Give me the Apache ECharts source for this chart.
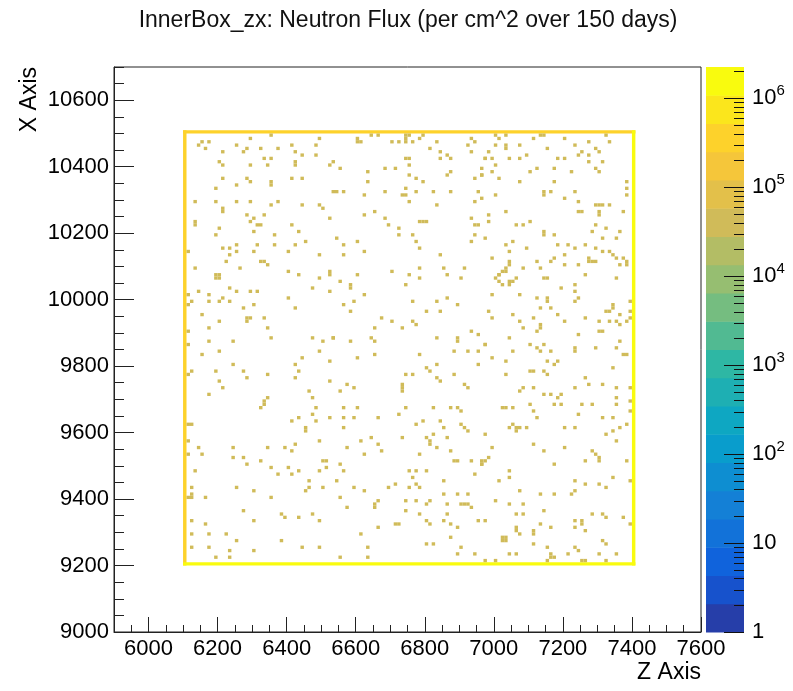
<!DOCTYPE html>
<html><head><meta charset="utf-8">
<script src="https://cdn.jsdelivr.net/npm/echarts@6/dist/echarts.min.js"></script>
<style>html,body{margin:0;padding:0;background:#fff}#c{width:793px;height:691px}</style>
</head><body><div id="c"></div>
<script>
const titleText = 'InnerBox_zx: Neutron Flux (per cm^2 over 150 days)';
const zAxisTitle = 'Z Axis';
const xAxisTitle = 'X Axis';
const zRange = [5900, 7600];
const xRange = [9000, 10700];
const zMajorTicks = [6000, 6200, 6400, 6600, 6800, 7000, 7200, 7400, 7600];
const xMajorTicks = [9000, 9200, 9400, 9600, 9800, 10000, 10200, 10400, 10600];
const minorStep = 50;
const binSize = 10;
const fluxRange = [1, 2.24e6];
const nContours = 20;
const cellFlux = 4.0e4;
// box outline strips: [zFrom, xFrom, zTo, xTo, flux]
const edgeStrips = [
  [6100, 10500, 7410, 10510, 3.5e5],
  [6100, 9200, 6110, 10510, 3.5e5],
  [7400, 9200, 7410, 10510, 1.6e6],
  [6100, 9200, 7410, 9210, 1.6e6]
];
// scattered bins [Z, X] (lower edges)
const hotCells = [
[6290,10480],[6350,10490],[6490,10480],[6140,10460],[6150,10470],[6170,10470],[6160,10450],[6250,10460],[6280,10450],[6270,10440],[6320,10450],[6370,10450],[6410,10460],[6420,10440],[6480,10460],[6480,10430],[6440,10430],[6210,10440],[6330,10420],[6350,10420],[6200,10410],[6210,10400],[6290,10400],[6340,10400],[6420,10400],[6420,10410],[6520,10400],[6530,10410],[6210,10360],[6280,10360],[6290,10350],[6350,10350],[6350,10340],[6410,10360],[6440,10360],[6250,10340],[6190,10330],[6130,10290],[6190,10290],[6250,10290],[6290,10290],[6350,10280],[6370,10290],[6440,10280],[6490,10280],[6500,10270],[6530,10320],[6210,10260],[6210,10270],[6280,10250],[6300,10240],[6290,10230],[6330,10250],[6520,10240],[6130,10230],[6130,10220],[6310,10220],[6320,10220],[6410,10220],[6200,10210],[6190,10190],[6300,10200],[6360,10190],[6430,10200],[6450,10170],[6250,10160],[6210,10150],[6230,10150],[6250,10140],[6230,10130],[6310,10160],[6360,10160],[6420,10160],[6300,10140],[6400,10140],[6490,10130],[6110,10140],[6220,10110],[6320,10110],[6330,10110],[6340,10100],[6130,10090],[6260,10090],[6400,10080],[6430,10070],[6190,10070],[6200,10070],[6520,10080],[6520,10070],
[6200,10060],[6190,10060],[6490,10060],[6230,10030],[6140,10020],[6250,10020],[6290,10020],[6310,10020],[6470,10030],[6520,10020],[6110,10010],[6170,10010],[6210,10000],[6200,9990],[6170,9990],[6230,9990],[6120,9990],[6110,9980],[6400,10000],[6300,9980],[6270,9970],[6420,9970],[6150,9950],[6280,9940],[6290,9940],[6280,9930],[6200,9930],[6330,9940],[6170,9910],[6340,9910],[6110,9900],[6350,9880],[6470,9880],[6530,9880],[6170,9870],[6240,9870],[6500,9870],[6110,9860],[6200,9840],[6490,9840],[6150,9830],[6440,9820],[6520,9810],[6240,9800],[6420,9800],[6120,9780],[6190,9780],[6270,9780],[6430,9780],[6110,9770],[6280,9760],[6340,9770],[6420,9760],[6200,9750],[6520,9750],[6210,9730],[6170,9710],[6460,9720],[6470,9700],[6340,9700],[6330,9690],[6330,9680],[6320,9670],[6480,9670],[6470,9650],[6520,9640],[6430,9640],[6410,9630],
[6480,9630],[6110,9620],[6120,9620],[6450,9610],[6450,9600],[6110,9570],[6490,9570],[6140,9550],[6240,9550],[6340,9550],[6390,9550],[6420,9560],[6410,9540],[6110,9530],[6150,9530],[6240,9520],[6270,9520],[6320,9510],[6280,9500],[6500,9510],[6510,9510],[6510,9490],[6130,9480],[6350,9490],[6400,9490],[6370,9470],[6410,9470],[6430,9480],[6490,9480],[6460,9450],[6120,9430],[6250,9430],[6460,9430],[6500,9430],[6450,9420],[6300,9420],[6110,9400],[6120,9400],[6120,9410],[6160,9400],[6350,9400],[6270,9360],[6380,9350],[6390,9340],[6430,9340],[6470,9350],[6120,9330],[6300,9330],[6490,9330],[6160,9320],[6120,9290],[6170,9290],[6220,9290],[6250,9270],[6380,9270],[6120,9250],[6170,9250],[6230,9240],[6300,9240],[6440,9250],[6490,9250],[6190,9220],[6230,9220],
[6600,10480],[6600,10470],[6610,10470],[6640,10490],[6660,10490],[6740,10490],[6740,10480],[6740,10470],[6750,10490],[6700,10470],[6720,10470],[6760,10470],[6780,10480],[6790,10490],[6830,10470],[6930,10480],[6940,10470],[6920,10460],[6810,10450],[6840,10440],[6860,10430],[6870,10420],[6840,10420],[6930,10440],[6970,10420],[6740,10420],[6750,10420],[6550,10390],[6630,10380],[6680,10390],[6710,10390],[6750,10400],[6750,10370],[6770,10360],[6790,10350],[6860,10370],[6870,10380],[6940,10360],[6960,10370],[6630,10350],[6740,10330],[6730,10310],[6740,10310],[6540,10320],[6560,10320],[6620,10310],[6680,10320],[6770,10320],[6820,10320],[6870,10320],[6950,10320],[6960,10300],[6750,10290],[6830,10280],[6940,10290],[6620,10250],[6650,10260],[6680,10240],[6690,10220],[6720,10210],[6720,10190],[6780,10230],[6790,10230],[6800,10230],[6760,10190],[6930,10240],[6940,10220],[6950,10220],[6940,10190],[6540,10180],[6600,10170],[6560,10160],[6770,10170],[6930,10170],[6780,10150],[6620,10140],[6560,10130],[6840,10130],[6780,10090],[6700,10080],[6850,10090],[6910,10090],[6750,10070],[6600,10070],
[6780,10060],[6860,10070],[6900,10060],[6550,10050],[6740,10040],[6580,10030],[6580,10040],[6620,10010],[6560,9980],[6590,9990],[6580,9960],[6760,9990],[6830,9990],[6860,10000],[6890,9980],[6800,9960],[6840,9960],[6670,9940],[6700,9930],[6760,9930],[6770,9920],[6730,9910],[6650,9910],[6530,9880],[6580,9870],[6640,9880],[6650,9870],[6830,9880],[6890,9880],[6890,9870],[6930,9900],[6950,9890],[6970,9860],[6650,9830],[6600,9820],[6780,9830],[6880,9840],[6920,9840],[6950,9840],[6800,9790],[6810,9780],[6830,9800],[6950,9800],[6740,9770],[6760,9770],[6830,9760],[6840,9750],[6880,9770],[6570,9740],[6590,9730],[6550,9720],[6730,9740],[6730,9730],[6730,9720],[6910,9740],[6920,9730],[6560,9670],[6600,9670],[6740,9670],[6820,9670],[6870,9670],[6890,9670],[6900,9660],[6720,9650],[6560,9640],[6590,9640],[6660,9640],
[6770,9620],[6790,9630],[6840,9630],[6850,9610],[6900,9620],[6910,9610],[6920,9600],[6560,9610],[6640,9580],[6730,9580],[6800,9580],[6810,9570],[6810,9560],[6820,9590],[6860,9580],[6610,9570],[6660,9560],[6670,9540],[6570,9550],[6620,9530],[6830,9550],[6870,9540],[6780,9530],[6880,9510],[6890,9510],[6930,9510],[6960,9500],[6960,9510],[6550,9500],[6560,9480],[6750,9480],[6770,9480],[6800,9480],[6760,9460],[6940,9470],[6540,9450],[6850,9450],[6710,9440],[6690,9430],[6770,9440],[6780,9430],[6750,9430],[6590,9430],[6620,9420],[6550,9400],[6570,9370],[6660,9390],[6650,9380],[6650,9370],[6740,9390],[6770,9390],[6810,9390],[6800,9380],[6850,9410],[6890,9410],[6920,9410],[6860,9380],[6900,9380],[6910,9380],[6920,9380],[6930,9370],[6740,9360],[6780,9350],[6860,9350],[6800,9330],[6810,9320],[6850,9330],[6870,9320],[6890,9310],[6950,9330],[6710,9320],[6720,9320],[6660,9310],[6610,9290],[6870,9280],[6800,9260],[6820,9260],[6630,9250],[6900,9250],[6890,9230],[6940,9230],[6550,9220],[6630,9220],
[7000,10490],[7010,10480],[7030,10490],[7130,10490],[7140,10490],[7110,10480],[7200,10480],[7320,10490],[7330,10470],[7270,10470],[7030,10460],[7030,10450],[7070,10460],[7000,10460],[7150,10450],[7230,10460],[7290,10450],[7300,10440],[7250,10440],[7270,10430],[7240,10430],[6980,10440],[6970,10420],[6990,10420],[7040,10420],[7070,10420],[7090,10430],[7180,10420],[7200,10420],[7270,10410],[7310,10410],[7000,10400],[6960,10390],[6960,10370],[6990,10380],[7100,10380],[7120,10390],[7170,10390],[7220,10380],[7290,10390],[7300,10380],[7010,10360],[7070,10350],[7170,10350],[7380,10350],[7380,10330],[7380,10310],[7000,10310],[7140,10320],[7140,10310],[7160,10320],[7200,10300],[7230,10320],[7240,10290],[7290,10280],[7300,10280],[7310,10280],[7330,10280],[7300,10260],[7300,10250],[7240,10260],[7250,10260],[7370,10260],[7030,10260],[6980,10250],[6980,10230],[7060,10220],[7080,10220],[7100,10230],[6970,10180],[7140,10200],[7140,10190],[7170,10190],[7290,10220],[7320,10210],[7280,10200],[7360,10200],[7310,10180],[7350,10180],[7030,10160],[7050,10170],[7040,10140],[7090,10150],[7180,10160],[7210,10160],[7230,10150],[7260,10160],[7290,10150],[7200,10130],[7310,10140],[7330,10140],[7340,10130],[7350,10120],[7370,10120],[7380,10110],[6990,10120],[7270,10120],[7270,10110],[7280,10110],[7290,10110],[7120,10110],[7130,10090],[7160,10110],[7170,10120],[7200,10100],[7240,10100],[7040,10100],[7040,10110],[7030,10090],[7020,10080],[7010,10070],[7080,10090],[7380,10100],[7360,10100],[7260,10070],
[7000,10060],[7010,10070],[7030,10080],[7010,10050],[7020,10040],[7040,10040],[7040,10050],[7050,10050],[7060,10060],[7140,10060],[7150,10060],[7350,10060],[7190,10030],[7230,10040],[7230,10020],[6990,10010],[7070,10010],[7120,10000],[7240,10000],[7230,9990],[7150,9990],[7150,10000],[7160,9970],[7130,9970],[7320,9960],[7330,9960],[7340,9980],[7340,9970],[7390,9990],[7390,9960],[7390,9940],[6980,9960],[6990,9940],[7050,9950],[7070,9930],[7080,9910],[7110,9940],[7130,9920],[7130,9910],[7120,9900],[7180,9950],[7200,9930],[7260,9940],[7300,9930],[7330,9930],[7350,9930],[7360,9950],[7360,9920],[7380,9930],[7300,9900],[7310,9900],[7240,9890],[7040,9880],[6970,9860],[7050,9840],[7100,9860],[7120,9850],[7130,9840],[7140,9860],[7160,9840],[7230,9850],[7230,9840],[7290,9850],[7350,9850],[7360,9870],[7370,9830],[7380,9830],[6990,9820],[7030,9810],[7150,9810],[7170,9800],[7180,9810],[7340,9790],[7100,9780],[7110,9780],[7140,9780],[7150,9770],[7030,9770],[7260,9760],[7270,9740],[7310,9740],[7230,9730],[7350,9730],[7390,9730],[7080,9730],[7070,9720],[7110,9730],[7140,9710],[7160,9710],[7190,9710],[7180,9700],[7350,9700],[7390,9690],[7020,9670],[7030,9670],[7050,9670],[7100,9680],[7110,9660],[7170,9680],[7190,9680],[7250,9680],[7280,9680],[7350,9680],[7390,9660],[7120,9640],[7240,9650],[7310,9640],[7340,9640],
[7050,9620],[7040,9610],[7060,9610],[7060,9600],[7070,9610],[7090,9610],[7200,9610],[7230,9610],[6970,9590],[7320,9590],[7340,9600],[7360,9610],[7380,9620],[7350,9570],[6990,9550],[7110,9560],[7140,9540],[7200,9550],[7280,9540],[7290,9530],[7300,9520],[7300,9510],[6980,9520],[6970,9510],[6960,9500],[7260,9510],[7380,9510],[7170,9500],[7040,9480],[7040,9460],[7010,9450],[7230,9450],[7340,9460],[7260,9440],[7300,9440],[7320,9430],[7390,9450],[7070,9420],[7130,9410],[7170,9410],[7230,9420],[7220,9410],[7000,9390],[7040,9380],[7080,9380],[7140,9360],[7060,9350],[7080,9350],[7280,9350],[7310,9350],[7320,9340],[7370,9340],[7390,9320],[7230,9330],[7250,9330],[7250,9320],[7230,9310],[7130,9320],[7160,9310],[7260,9300],[7060,9310],[7060,9300],[7070,9290],[7110,9300],[7110,9290],[6970,9330],[7020,9280],[7030,9280],[7030,9270],[7020,9270],[7110,9260],[7150,9250],[7230,9250],[7240,9240],[7310,9270],[7320,9260],[7040,9230],[7060,9230],[7160,9230],[7160,9220],[7170,9220],[7210,9230],[7300,9230],[7350,9230],[6970,9210],[7000,9210],[7150,9210],[7250,9210],[7260,9210],[7320,9210]
];

// ROOT kBird palette
const birdStops = [0.0, 0.125, 0.25, 0.375, 0.5, 0.625, 0.75, 0.875, 1.0];
const birdR = [0.2082, 0.0592, 0.0780, 0.0232, 0.1802, 0.5301, 0.8186, 0.9956, 0.9764];
const birdG = [0.1664, 0.3599, 0.5041, 0.6419, 0.7178, 0.7492, 0.7328, 0.7862, 0.9832];
const birdB = [0.5293, 0.8684, 0.8385, 0.7914, 0.6425, 0.4662, 0.3499, 0.1968, 0.0539];
function birdColor(t) {
  t = Math.max(0, Math.min(1, t));
  let i = 0;
  while (i < birdStops.length - 2 && t > birdStops[i + 1]) i++;
  const f = (t - birdStops[i]) / (birdStops[i + 1] - birdStops[i]);
  const c = a => Math.round(255 * (a[i] + f * (a[i + 1] - a[i])));
  return 'rgb(' + c(birdR) + ',' + c(birdG) + ',' + c(birdB) + ')';
}
const logMin = Math.log10(fluxRange[0]);
const logMax = Math.log10(fluxRange[1]);
function bandIndex(v) {
  let k = Math.floor((Math.log10(v) - logMin) / (logMax - logMin) * nContours);
  return Math.max(0, Math.min(nContours - 1, k));
}
function bandColor(k) { return birdColor((k + 0.99) / nContours); }

const mapData = edgeStrips.map(s => s.slice());
hotCells.forEach(c => mapData.push([c[0], c[1], c[0] + binSize, c[1] + binSize, cellFlux]));

function minorsOf(range, majors, step) {
  const out = [];
  for (let v = range[0]; v <= range[1] + 1e-9; v += step) if (majors.indexOf(v) < 0) out.push(v);
  return out;
}
const zMinorTicks = minorsOf(zRange, zMajorTicks, minorStep);
const xMinorTicks = minorsOf(xRange, xMajorTicks, minorStep);

// colour-bar ticks: [log10 value, tick length]
const barDecades = [];
const barTicks = [];
for (let n = Math.floor(logMin); n <= Math.floor(logMax); n++) {
  barDecades.push(n);
  barTicks.push([n, 20]);
  for (let k = 2; k <= 9; k++) { const l = n + Math.log10(k); if (l < logMax) barTicks.push([l, 10]); }
}
const bands = [];
for (let k = 0; k < nContours; k++) {
  bands.push([0, logMin + (logMax - logMin) * k / nContours, 1, logMin + (logMax - logMin) * (k + 1) / nContours, k]);
}

const FONT = '"Liberation Sans", Arial, Helvetica, sans-serif';
const chart = echarts.init(document.getElementById('c'), null, { renderer: 'canvas' });
const lbl = { fontFamily: FONT, fontSize: 22, color: '#000', formatter: v => String(v) };
const mainBox = { left: 114, top: 67, width: 587, height: 565 };
const barBox = { left: 706, top: 67, width: 38, height: 565 };
const TICK = '#222';
function minorAxis(gridIndex, range, ticks, len, pos) {
  return { gridIndex: gridIndex, type: 'value', min: range[0], max: range[1], position: pos,
    axisLine: { show: false },
    axisTick: { show: true, inside: true, length: len, customValues: ticks, lineStyle: { color: TICK } },
    axisLabel: { show: false }, splitLine: { show: false } };
}
chart.setOption({
  animation: false,
  backgroundColor: '#fff',
  grid: [
    Object.assign({ show: true, borderColor: '#222', borderWidth: 1, backgroundColor: 'transparent' }, mainBox),
    Object.assign({ show: false }, barBox),
    Object.assign({ show: false }, mainBox)
  ],
  graphic: [
    { type: 'text', x: 408, y: 21, style: { text: titleText, fontFamily: FONT, fontSize: 23, fill: '#111', align: 'center', verticalAlign: 'middle' } },
    { type: 'text', x: 701, y: 673, style: { text: zAxisTitle, fontFamily: FONT, fontSize: 23, fill: '#000', align: 'right', verticalAlign: 'middle' } },
    { type: 'text', x: 30, y: 67, rotation: Math.PI / 2, style: { text: xAxisTitle, fontFamily: FONT, fontSize: 23, fill: '#000', align: 'right', verticalAlign: 'middle' } }
  ],
  xAxis: [
    { gridIndex: 0, type: 'value', min: zRange[0], max: zRange[1], position: 'bottom',
      axisLine: { show: true, lineStyle: { color: '#222', width: 1 } },
      axisTick: { show: true, inside: true, length: 15, customValues: zMajorTicks, lineStyle: { color: TICK } },
      axisLabel: Object.assign({ customValues: zMajorTicks, margin: 6 }, lbl),
      splitLine: { show: false } },
    { gridIndex: 1, type: 'value', min: 0, max: 1, show: false },
    minorAxis(2, zRange, zMinorTicks, 7, 'bottom')
  ],
  yAxis: [
    { gridIndex: 0, type: 'value', min: xRange[0], max: xRange[1], position: 'left',
      axisLine: { show: true, lineStyle: { color: '#222', width: 1 } },
      axisTick: { show: true, inside: true, length: 20, customValues: xMajorTicks, lineStyle: { color: TICK } },
      axisLabel: Object.assign({ customValues: xMajorTicks, margin: 5 }, lbl),
      splitLine: { show: false } },
    { gridIndex: 1, type: 'value', min: logMin, max: logMax, position: 'right',
      axisLine: { show: false },
      axisTick: { show: false },
      axisLabel: { customValues: barDecades, margin: 8, fontFamily: FONT, fontSize: 22, color: '#000',
        formatter: v => { const n = Math.round(v); return n === 0 ? '1' : (n === 1 ? '10' : '10{s|' + n + '}'); },
        rich: { s: { fontFamily: FONT, fontSize: 15, color: '#000', padding: [0, 0, 14, 0] } } },
      splitLine: { show: false } },
    minorAxis(2, xRange, xMinorTicks, 10, 'left')
  ],
  series: [
    { type: 'custom', xAxisIndex: 0, yAxisIndex: 0, data: mapData, encode: { x: [0, 2], y: [1, 3] }, clip: true, silent: true,
      renderItem: function (params, api) {
        const a = api.coord([api.value(0), api.value(1)]);
        const b = api.coord([api.value(2), api.value(3)]);
        return { type: 'rect', shape: { x: a[0], y: b[1], width: b[0] - a[0], height: a[1] - b[1] },
          style: { fill: bandColor(bandIndex(api.value(4))) } };
      } },
    { type: 'custom', xAxisIndex: 1, yAxisIndex: 1, data: bands, encode: { x: [0, 2], y: [1, 3] }, silent: true, z: 1,
      renderItem: function (params, api) {
        const a = api.coord([api.value(0), api.value(1)]);
        const b = api.coord([api.value(2), api.value(3)]);
        return { type: 'rect', shape: { x: a[0], y: b[1], width: b[0] - a[0], height: a[1] - b[1] + 0.5 },
          style: { fill: bandColor(api.value(4)) } };
      } },
    { type: 'custom', xAxisIndex: 1, yAxisIndex: 1, data: barTicks, encode: { y: 0 }, silent: true, z: 5,
      renderItem: function (params, api) {
        const p = api.coord([1, api.value(0)]);
        const len = api.value(1);
        const y = Math.round(p[1]) + 0.5;
        return { type: 'line', shape: { x1: p[0] - len, y1: y, x2: p[0], y2: y },
          style: { stroke: '#111', lineWidth: 1 } };
      } }
  ]
});
</script></body></html>
